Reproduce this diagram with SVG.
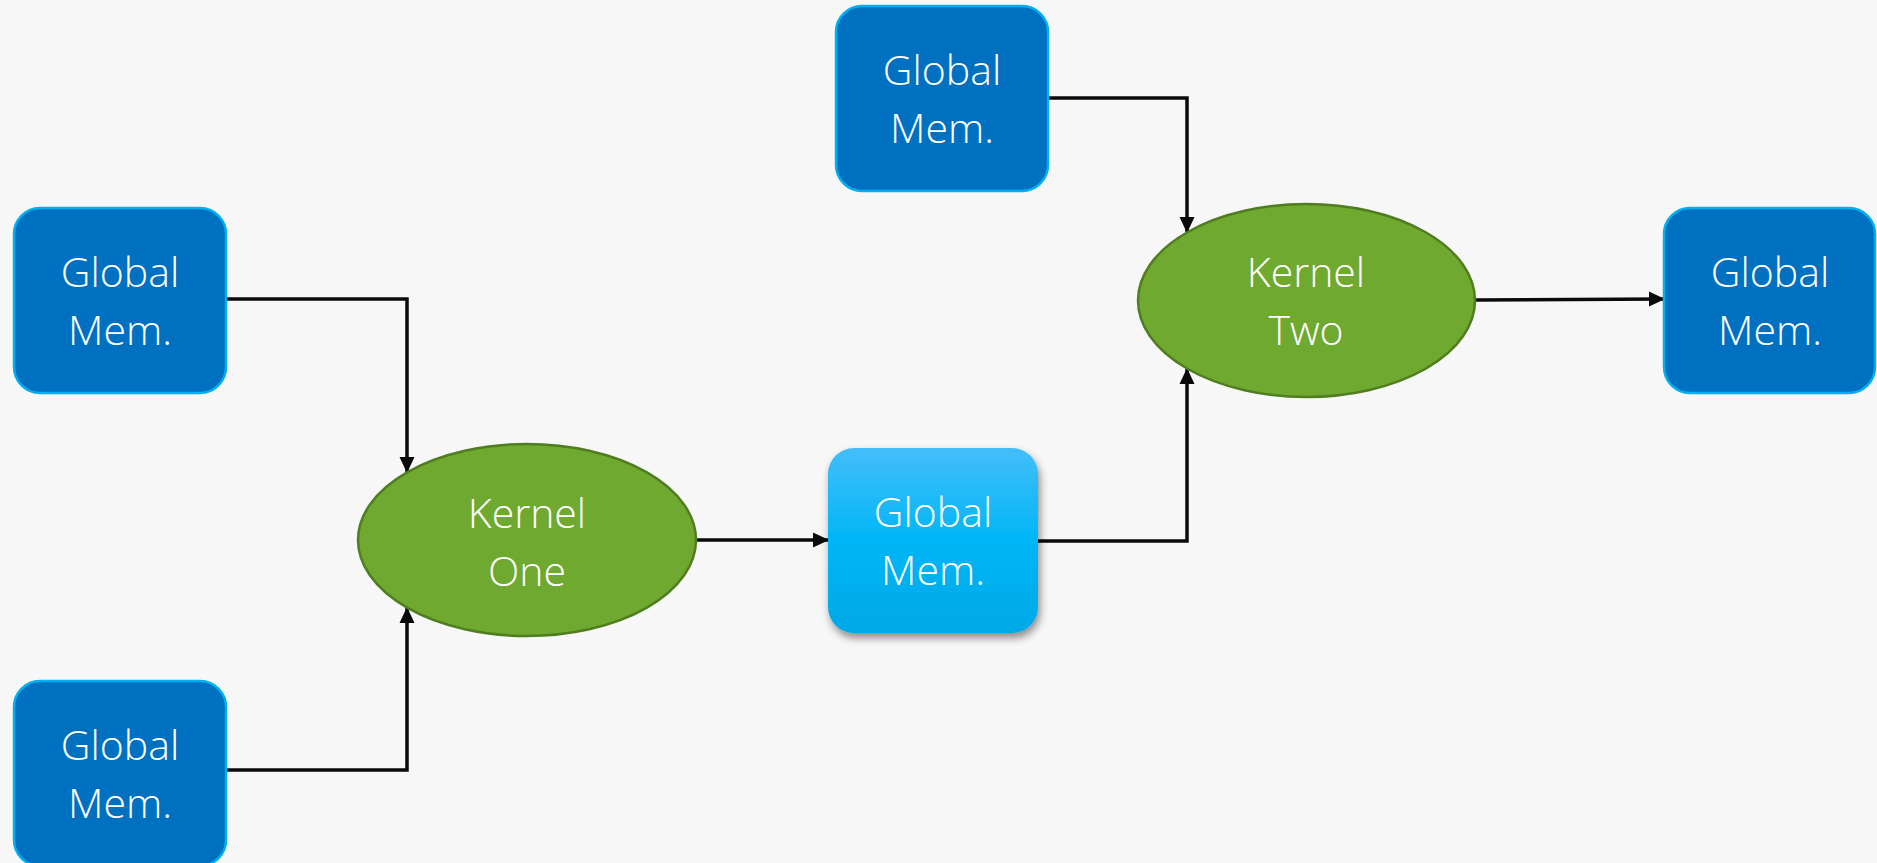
<svg xmlns="http://www.w3.org/2000/svg" width="1877" height="863" viewBox="0 0 1877 863">
  <style>
    .mem { fill: #0070c0; stroke: #00b0f0; stroke-width: 2.5; }
    .mem-hi { fill: url(#memGrad); }
    .kernel { fill: #6fa92f; stroke: #4f7d1f; stroke-width: 2.5; }
    .label { font-family: "Open Sans", "Noto Sans", "Liberation Sans", sans-serif; font-weight: 300; font-size: 41px; fill: #ffffff; text-anchor: middle; }
    .wire { fill: none; stroke: #0a0a0a; stroke-width: 3.5; marker-end: url(#arrow); }
  </style>
  <defs>
    <marker id="arrow" viewBox="0 0 16 16" refX="15" refY="8" markerWidth="16" markerHeight="16" markerUnits="userSpaceOnUse" orient="auto">
      <path d="M0,0.5 L16,8 L0,15.5 Z" fill="#0a0a0a"/>
    </marker>
    <linearGradient id="memGrad" x1="0" y1="0" x2="0" y2="1">
      <stop offset="0" stop-color="#44befa"/>
      <stop offset="0.5" stop-color="#00b6f6"/>
      <stop offset="1" stop-color="#00a8e6"/>
    </linearGradient>
    <filter id="shadow" x="-20%" y="-20%" width="140%" height="140%">
      <feGaussianBlur in="SourceAlpha" stdDeviation="4"/>
      <feOffset dx="2" dy="5" result="b"/>
      <feComponentTransfer><feFuncA type="linear" slope="0.45"/></feComponentTransfer>
      <feMerge><feMergeNode/><feMergeNode in="SourceGraphic"/></feMerge>
    </filter>
  </defs>

  <rect width="1877" height="863" fill="#f7f7f7"/>

  <g id="connectors">
    <path class="wire" d="M226,299 H407 V472"/>
    <path class="wire" d="M226,770 H407 V608"/>
    <path class="wire" d="M695,540 L828,540"/>
    <path class="wire" d="M1038,541 H1187 V369"/>
    <path class="wire" d="M1048,98 H1187 V232"/>
    <path class="wire" d="M1475,300 L1664,299"/>
  </g>

  <g id="mem-in-a">
    <rect class="mem" x="14" y="208" width="212" height="185" rx="26"/>
    <text class="label" x="120" y="287">Global</text>
    <text class="label" x="120" y="345">Mem.</text>
  </g>

  <g id="mem-in-b">
    <rect class="mem" x="14" y="681" width="212" height="185" rx="26"/>
    <text class="label" x="120" y="760">Global</text>
    <text class="label" x="120" y="818">Mem.</text>
  </g>

  <g id="kernel-one">
    <ellipse class="kernel" cx="527" cy="540" rx="169" ry="96"/>
    <text class="label" x="527" y="528">Kernel</text>
    <text class="label" x="527" y="586">One</text>
  </g>

  <g id="mem-mid">
    <rect class="mem-hi" x="828" y="448" width="210" height="185" rx="26" filter="url(#shadow)"/>
    <text class="label" x="933" y="527">Global</text>
    <text class="label" x="933" y="585">Mem.</text>
  </g>

  <g id="mem-in-c">
    <rect class="mem" x="836" y="6" width="212" height="185" rx="26"/>
    <text class="label" x="942" y="85">Global</text>
    <text class="label" x="942" y="143">Mem.</text>
  </g>

  <g id="kernel-two">
    <ellipse class="kernel" cx="1306.5" cy="300.5" rx="168.5" ry="96.5"/>
    <text class="label" x="1306" y="287">Kernel</text>
    <text class="label" x="1306" y="345">Two</text>
  </g>

  <g id="mem-out">
    <rect class="mem" x="1664" y="208" width="211" height="185" rx="26"/>
    <text class="label" x="1770" y="287">Global</text>
    <text class="label" x="1770" y="345">Mem.</text>
  </g>
</svg>
